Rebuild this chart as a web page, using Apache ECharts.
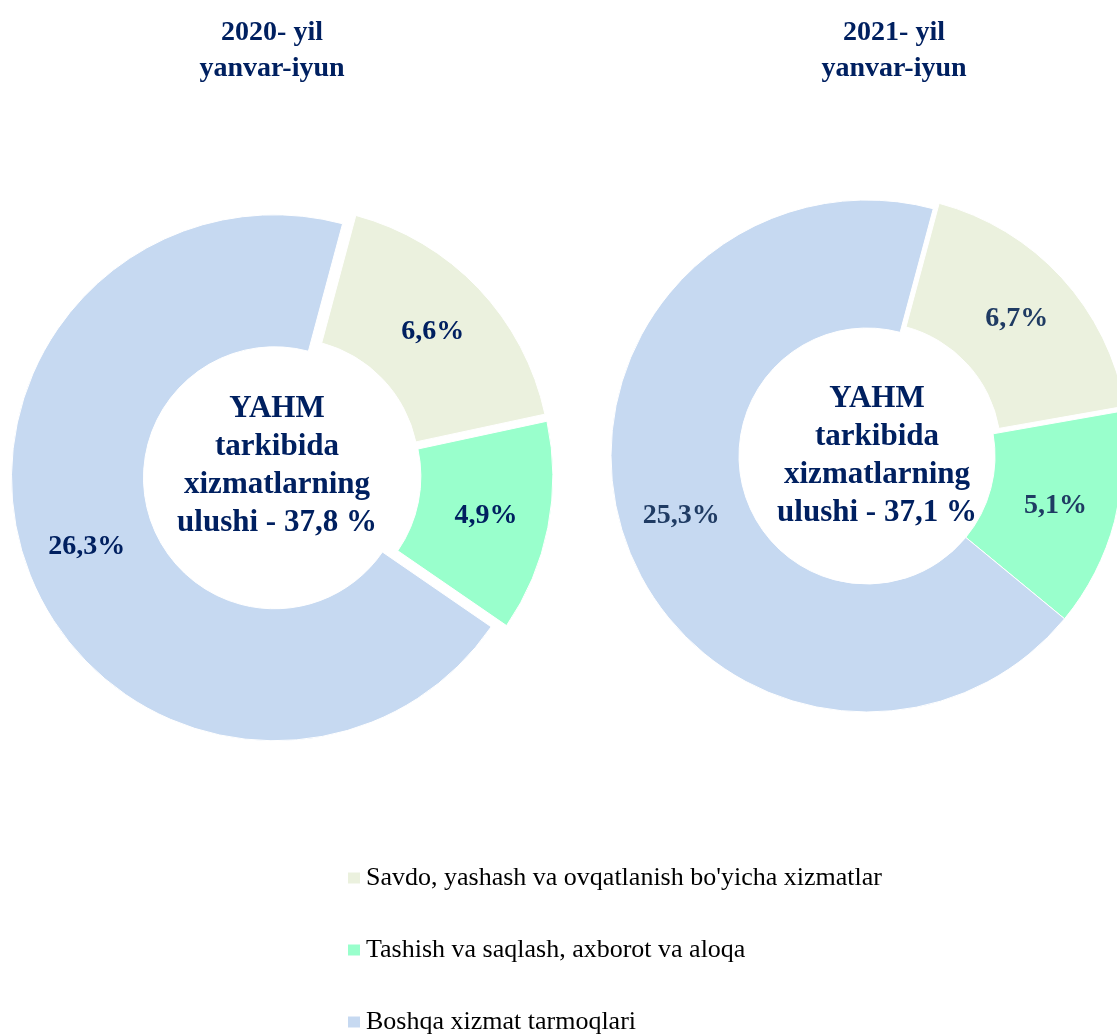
<!DOCTYPE html>
<html>
<head>
<meta charset="utf-8">
<title>YAHM tarkibida xizmatlar</title>
<script src="https://cdn.jsdelivr.net/npm/echarts@6/dist/echarts.min.js"></script>
<style>
  html, body { margin: 0; padding: 0; background: #fff; }
  #chart { width: 1117px; height: 1034px; }
</style>
</head>
<body>
<div id="chart"></div>
<script>
// kategoriyalar va qiymatlar
const categories = [
  "Savdo, yashash va ovqatlanish bo'yicha xizmatlar",
  'Tashish va saqlash, axborot va aloqa',
  'Boshqa xizmat tarmoqlari',
]
const colors = ['#EBF1DE', '#99FFCC', '#C6D9F1']
const values2020 = [6.6, 4.9, 26.3]
const values2021 = [6.7, 5.1, 25.3]
const total2020 = '37,8'
const total2021 = '37,1'

const serif = '"Liberation Serif", "Times New Roman", serif'

function fmt(v) {
  return String(v).replace('.', ',') + '%'
}

function pieData(values, selected, labelOffsets) {
  return values.map(function (v, i) {
    const item = {
      name: categories[i],
      value: v,
      selected: selected[i],
      itemStyle: { color: colors[i] },
    }
    if (labelOffsets && labelOffsets[i]) item.label = { offset: labelOffsets[i] }
    return item
  })
}

function centerText(x, y, text) {
  return {
    type: 'text',
    x: x,
    y: y,
    style: {
      text: text,
      fontFamily: serif,
      fontWeight: 'bold',
      fontSize: 31,
      lineHeight: 38,
      fill: '#002060',
      textAlign: 'center',
      textVerticalAlign: 'middle',
    },
  }
}

function yearTitle(x, text) {
  return {
    type: 'text',
    x: x,
    y: 51,
    style: {
      text: text,
      fontFamily: serif,
      fontWeight: 'bold',
      fontSize: 28,
      lineHeight: 36,
      fill: '#002060',
      textAlign: 'center',
      textVerticalAlign: 'middle',
    },
  }
}

// har bir legend qatori alohida, ustma-ust
function legendRow(i) {
  return {
    orient: 'vertical',
    left: 346,
    top: 865 + i * 72,
    padding: 0,
    itemWidth: 14,
    itemHeight: 13,
    icon: 'rect',
    selectedMode: false,
    data: [categories[i]],
    textStyle: {
      fontFamily: serif,
      fontSize: 26,
      lineHeight: 26,
      color: '#000',
    },
  }
}

function donuts() {
  const option = {
    animation: false,
    legend: [legendRow(0), legendRow(1), legendRow(2)],
    graphic: [
      yearTitle(272, '2020- yil\nyanvar-iyun'),
      yearTitle(894, '2021- yil\nyanvar-iyun'),
      centerText(277, 466, 'YAHM\ntarkibida\nxizmatlarning\nulushi - ' + total2020 + ' %'),
      centerText(877, 456, 'YAHM\ntarkibida\nxizmatlarning\nulushi - ' + total2021 + ' %'),
    ],
    series: [
      {
        name: '2020',
        type: 'pie',
        center: [282, 475],
        radius: [131, 263],
        startAngle: 75,
        selectedMode: 'multiple',
        selectedOffset: 8,
        silent: true,
        itemStyle: { borderColor: '#fff', borderWidth: 1 },
        label: {
          position: 'inside',
          formatter: function (p) { return fmt(p.value) },
          fontFamily: serif,
          fontWeight: 'bold',
          fontSize: 28,
          color: '#002060',
        },
        labelLine: { show: false },
        data: pieData(values2020, [true, true, true], [null, [-14, 4], null]),
      },
      {
        name: '2021',
        type: 'pie',
        center: [867, 456],
        radius: [128, 256],
        startAngle: 75,
        selectedMode: 'multiple',
        selectedOffset: 8,
        silent: true,
        itemStyle: { borderColor: '#fff', borderWidth: 1 },
        label: {
          position: 'inside',
          formatter: function (p) { return fmt(p.value) },
          fontFamily: serif,
          fontWeight: 'bold',
          fontSize: 28,
          color: '#1F3B63',
        },
        labelLine: { show: false },
        data: pieData(values2021, [true, false, false]),
      },
    ],
  }

  var myChart = echarts.init(document.getElementById('chart'))
  myChart.setOption(option)
}

donuts()
</script>
</body>
</html>
